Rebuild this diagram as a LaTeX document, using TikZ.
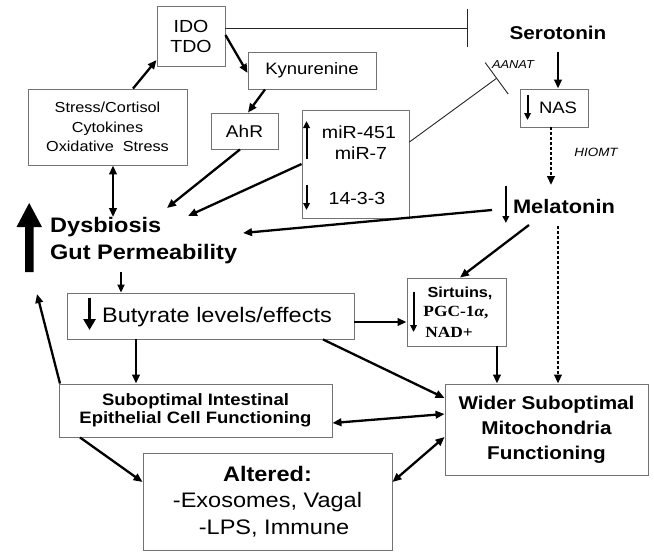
\documentclass[tikz,border=0pt]{standalone}
\usepackage{fontspec}
\setmainfont{Liberation Sans}[FakeStretch=1.12]
\newfontfamily\serifb{Liberation Serif}[FakeStretch=1.12]
\usetikzlibrary{arrows.meta}
\tikzset{
  box/.style={draw=black!55, line width=0.9pt, inner sep=0pt, align=center, text=black},
  lbl/.style={inner sep=0pt, align=center},
  arr/.style={line width=2.3pt, -{Triangle[length=9pt,width=7.5pt]}},
  darr/.style={line width=2.3pt, {Triangle[length=9pt,width=7.5pt]}-{Triangle[length=9pt,width=7.5pt]}},
  inarr/.style={line width=2pt, -{Triangle[length=7pt,width=6.5pt]}},
  dotarr/.style={line width=2.6pt, dash pattern=on 2.6pt off 2.4pt, -{Triangle[length=9pt,width=7.5pt]}},
  inh/.style={line width=0.9pt, draw=black!85},
}
\newcommand{\fs}[2]{\fontsize{#1}{#2}\selectfont}
\begin{document}
\begin{tikzpicture}[x=1pt,y=-1pt]
\fill[white] (0,0) rectangle (654,560);
\useasboundingbox (0,0) rectangle (654,560);

% boxes
\node[box, minimum width=68pt, minimum height=60pt, font=\fs{17.5}{20}] (ido) at (191,36)
  {IDO\\TDO};
\node[box, minimum width=128pt, minimum height=37pt, font=\fs{16.5}{19}] (kyn) at (312,70.5)
  {Kynurenine};
\node[box, minimum width=67pt, minimum height=36pt, font=\fs{17}{19}] (ahr) at (244.5,131)
  {AhR};
\node[box, minimum width=159pt, minimum height=76pt, font=\fs{14.5}{19.5}] (stress) at (107.5,127)
  {Stress/Cortisol\\Cytokines\\Oxidative\ \ Stress};
\node[box, minimum width=107pt, minimum height=108pt] (mir) at (355.5,164) {};
\node[lbl, font=\fs{17.5}{20}] (mir1) at (359,132) {miR-451};
\node[lbl, font=\fs{17.5}{20}] (mir2) at (361,153) {miR-7};
\node[lbl, font=\fs{17.5}{20}] (mir3) at (357,198) {14-3-3};
\node[box, minimum width=68pt, minimum height=38pt] (nas) at (554,108) {};
\node[lbl, font=\fs{16.5}{19}] (nast) at (558,108) {NAS};
\node[box, minimum width=99pt, minimum height=68pt] (sirt) at (456.5,312) {};
\node[lbl, font=\fs{14.5}{17}\bfseries] (sirt1) at (460,293) {Sirtuins,};
\node[lbl, font=\fs{15.5}{18}\serifb\bfseries] (sirt2) at (456,313) {PGC-1\textit{α},};
\node[lbl, font=\fs{15.5}{18}\serifb\bfseries] (sirt3) at (449,332) {NAD+};
\node[box, minimum width=287pt, minimum height=46pt] (but) at (210.5,316) {};
\node[lbl, font=\fs{21}{24}] (butt) at (217,317) {Butyrate levels/effects};
\node[box, minimum width=273pt, minimum height=53pt, font=\fs{16.5}{18.5}\bfseries] (sub) at (195.5,410.5)
  {Suboptimal Intestinal\\Epithelial Cell Functioning};
\node[box, minimum width=203pt, minimum height=91pt, font=\fs{18.5}{25}\bfseries] (wider) at (546.5,429.5)
  {Wider Suboptimal\\Mitochondria\\Functioning};
\node[box, minimum width=249pt, minimum height=97pt, font=\fs{21}{26.5}] (alt) at (267.5,501.5)
  {\textbf{Altered:}\\-Exosomes, Vagal\\\ \ -LPS, Immune};

% free text
\node[lbl, font=\fs{18.5}{22}\bfseries] (sero) at (558,33) {Serotonin};
\node[lbl, font=\fs{19.5}{23}\bfseries] (mel) at (564,207) {Melatonin};
\node[lbl, align=left, anchor=west, font=\fs{21}{27}\bfseries] (dys) at (50,241)
  {Dysbiosis\\Gut Permeability};
\node[lbl, font=\fs{11.5}{14}\itshape] (aanat) at (513,65) {AANAT};
\node[lbl, font=\fs{12}{14}\itshape] (hiomt) at (596,152) {HIOMT};

% big up arrow
\fill (25,272) -- (33.5,272) -- (33.5,227) -- (42,227) -- (29.2,203) -- (16.5,227) -- (25,227) -- cycle;

% named free ends
\coordinate (bar1) at (468,28);
\coordinate (bar2) at (497,78);
\coordinate (dysA) at (167,208);
\coordinate (dysM) at (188,216);
\coordinate (dysL) at (243,233);
\coordinate (dysS) at (113,217);
\coordinate (dysB) at (121,272);
\coordinate (dysU) at (37,294);
\coordinate (melL) at (492,210);
\coordinate (melS) at (529,225);
\coordinate (melD) at (558,226);
\coordinate (melT) at (551,185);
\coordinate (seroB) at (558,52);

% inhibitions
\draw[inh, -{Bar[width=38pt,line width=0.9pt]}] (ido.east) ++(0,-8) -- (bar1);
\draw[inh, -{Bar[width=39pt,line width=0.9pt]}] (mir.east) ++(0,-22) -- (bar2);

% arrows
\draw[arr] (stress.north -| 133,0) -- (ido.west |- 0,60);
\draw[arr] (ido.east |- 0,35) -- (kyn.west |- 0,73);
\draw[arr] (kyn.south -| 265,0) -- (ahr.north -| 248,0);
\draw[arr] (ahr.south -| 240,0) -- (dysA);
\draw[arr] (mir.west |- 0,164) -- (dysM);
\draw[arr] (melL) -- (dysL);
\draw[arr] (melS) -- (sirt.north -| 460,0);
\draw[arr] (seroB) -- (nas.north -| 558,0);
\draw[dotarr] (nas.south -| 551,0) -- (melT);
\draw[dotarr] (melD) -- (wider.north -| 558,0);
\draw[arr] (sirt.south -| 497,0) -- (wider.north -| 497,0);
\draw[darr] (stress.south -| 113,0) -- (dysS);
\draw[line width=1.9pt, -{Triangle[length=8pt,width=7pt]}] (dysB) -- (but.north -| 121,0);
\draw[arr] (but.east |- 0,322) -- (sirt.west |- 0,322);
\draw[arr] (but.south -| 136,0) -- (sub.north -| 136,0);
\draw[arr] (but.south -| 323,0) -- (wider.west |- 0,398);
\draw[darr] (sub.east |- 0,423) -- (wider.west |- 0,414);
\draw[arr] (sub.south -| 80,0) -- (alt.west |- 0,482);
\draw[darr] (wider.west |- 0,437) -- (alt.east |- 0,482);
\draw[arr] (sub.north -| 60,0) -- (dysU);

% small inner arrows
\draw[inarr] (mir.west) ++(5,-5) -- ++(0,-38);
\draw[inarr] (mir.west) ++(5,21) -- ++(0,25);
\draw[inarr] (nas.west) ++(8,-13) -- ++(0,25);
\draw[inarr] (sirt.west) ++(7,-20) -- ++(0,40);
\draw[inarr] (mel.west) ++(-7,-21) -- ++(0,37);
\draw[line width=3.5pt, -{Triangle[length=11pt,width=12pt]}] (but.west) ++(23,-18) -- ++(0,32);
\end{tikzpicture}
\end{document}
